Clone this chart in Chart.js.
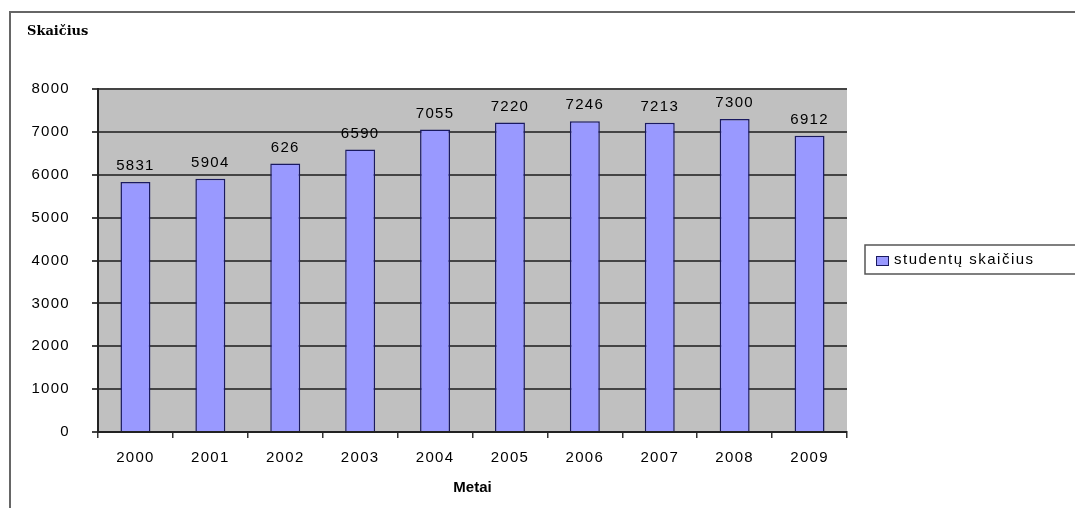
<!DOCTYPE html>
<html lang="lt">
<head>
<meta charset="UTF-8">
<title>Studentų skaičius</title>
<style>
body { margin:0; padding:0; background:#fff; }
#wrap { position:relative; width:1075px; height:508px; }
#frame { position:absolute; left:9px; top:11px; right:-5px; bottom:-5px; border-left:2px solid #666; border-top:2px solid #666; pointer-events:none; }
canvas { position:absolute; left:0; top:0; }
</style>
</head>
<body>
<div id="wrap">
<canvas id="chart" width="1075" height="508"></canvas>
<div id="frame"></div>
</div>
<script src="https://cdn.jsdelivr.net/npm/chart.js"></script>
<script>
const years = ['2000','2001','2002','2003','2004','2005','2006','2007','2008','2009'];
const students = [5831, 5904, 6260, 6590, 7055, 7220, 7246, 7213, 7300, 6912];
// labels as printed on the original (2002 is cut short there)
const valueLabels = ['5831','5904','626','6590','7055','7220','7246','7213','7300','6912'];
const seriesName = 'studentų skaičius';
const yTitle = 'Skaičius';
const xTitle = 'Metai';

const tickFont = { family: 'Liberation Sans, Arial', size: 15 };
const spacing = '1.3px';

// the old Excel text is spaced out a bit
const wideText = {
  id: 'wideText',
  beforeUpdate(chart) { chart.ctx.letterSpacing = spacing; },
  beforeDraw(chart) { chart.ctx.letterSpacing = spacing; }
};

// grey plot background, titles, value labels and the boxed legend
const excelLook = {
  id: 'excelLook',
  beforeDraw(chart) {
    const { ctx, chartArea: a } = chart;
    ctx.save();
    ctx.fillStyle = '#c0c0c0';
    ctx.fillRect(a.left, a.top, a.right - a.left, a.bottom - a.top);
    ctx.restore();
  },
  afterDatasetsDraw(chart) {
    const { ctx, chartArea: a } = chart;
    const meta = chart.getDatasetMeta(0);
    ctx.save();
    ctx.fillStyle = '#000';
    ctx.font = '15px Liberation Sans, Arial';
    ctx.textAlign = 'center';
    ctx.textBaseline = 'middle';
    meta.data.forEach((bar, i) => {
      ctx.fillText(valueLabels[i], bar.x, bar.y - 16);
    });

    ctx.letterSpacing = '0px';
    ctx.font = 'bold 13px DejaVu Serif, serif';
    ctx.textAlign = 'left';
    ctx.fillText(yTitle, 27, 32);
    ctx.font = 'bold 15px Liberation Sans, Arial';
    ctx.textAlign = 'center';
    ctx.fillText(xTitle, (a.left + a.right) / 2, 488);

    // legend
    const lx = 865, ly = 245, lw = 230, lh = 29;
    ctx.fillStyle = '#fff';
    ctx.fillRect(lx, ly, lw, lh);
    ctx.strokeStyle = '#555';
    ctx.lineWidth = 1.5;
    ctx.strokeRect(lx, ly, lw, lh);
    const ds = chart.data.datasets[0];
    ctx.fillStyle = ds.backgroundColor;
    ctx.fillRect(876, 257, 12, 8);
    ctx.strokeStyle = ds.borderColor;
    ctx.lineWidth = 1;
    ctx.strokeRect(876.5, 256.5, 12, 9);
    ctx.fillStyle = '#000';
    ctx.font = '15px Liberation Sans, Arial';
    ctx.letterSpacing = '1.5px';
    ctx.textAlign = 'left';
    ctx.fillText(ds.label, 894, 260);
    ctx.restore();
  }
};

new Chart(document.getElementById('chart'), {
  type: 'bar',
  data: {
    labels: years,
    datasets: [{
      label: seriesName,
      data: students,
      backgroundColor: '#9999ff',
      borderColor: '#1a1a60',
      borderWidth: 1.5,
      barPercentage: 0.4,
      categoryPercentage: 1.0
    }]
  },
  options: {
    responsive: false,
    animation: false,
    layout: { padding: { top: 89, right: 228, bottom: 0, left: 0 } },
    plugins: { legend: { display: false }, tooltip: { enabled: false } },
    scales: {
      x: {
        offset: true,
        afterFit(scale) { scale.height = 76; },
        grid: { offset: true, drawOnChartArea: false, color: '#333', lineWidth: 1.5, tickLength: 6 },
        border: { color: '#222', width: 2 },
        ticks: { color: '#000', font: tickFont, padding: 11 }
      },
      y: {
        min: 0,
        max: 8000,
        afterFit(scale) { scale.width = 98; },
        grid: { color: '#444', lineWidth: 2, tickLength: 6 },
        border: { color: '#222', width: 2 },
        ticks: { stepSize: 1000, color: '#000', font: tickFont, padding: 22, callback: v => String(v) }
      }
    }
  },
  plugins: [wideText, excelLook]
});
</script>
</body>
</html>
